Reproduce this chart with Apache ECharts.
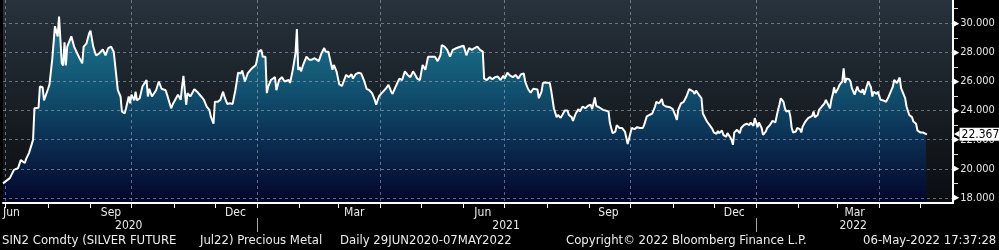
<!DOCTYPE html>
<html>
<head>
<meta charset="utf-8">
<script src="https://cdn.jsdelivr.net/npm/echarts@6/dist/echarts.min.js"></script>
<style>
html,body{margin:0;padding:0;background:#000;}
#c{width:999px;height:250px;}
</style>
</head>
<body>
<div id="c"></div>
<script>
// ---- data (SIN2 Comdty, silver future, close) ----
const dates = [
'2020-06-29','2020-07-04','2020-07-07','2020-07-10','2020-07-12','2020-07-15','2020-07-16','2020-07-18','2020-07-21','2020-07-22',
'2020-07-25','2020-07-26','2020-07-28','2020-07-29','2020-08-01','2020-08-02','2020-08-04','2020-08-06','2020-08-08','2020-08-09',
'2020-08-11','2020-08-12','2020-08-13','2020-08-14','2020-08-15','2020-08-18','2020-08-20','2020-08-21','2020-08-24','2020-08-26',
'2020-08-27','2020-08-29','2020-08-31','2020-09-01','2020-09-03','2020-09-05','2020-09-07','2020-09-10','2020-09-12','2020-09-14',
'2020-09-16','2020-09-18','2020-09-19','2020-09-21','2020-09-23','2020-09-24','2020-09-26','2020-09-27','2020-09-29','2020-09-30',
'2020-10-01','2020-10-03','2020-10-04','2020-10-05','2020-10-07','2020-10-09','2020-10-12','2020-10-13','2020-10-14','2020-10-16',
'2020-10-19','2020-10-21','2020-10-23','2020-10-26','2020-10-27','2020-10-30','2020-10-31','2020-11-02','2020-11-04','2020-11-06',
'2020-11-07','2020-11-08','2020-11-10','2020-11-11','2020-11-13','2020-11-16','2020-11-18','2020-11-21','2020-11-23','2020-11-25',
'2020-11-27','2020-11-28','2020-11-30','2020-12-01','2020-12-03','2020-12-05','2020-12-07','2020-12-08','2020-12-10','2020-12-12',
'2020-12-14','2020-12-16','2020-12-18','2020-12-20','2020-12-21','2020-12-23','2020-12-25','2020-12-26','2020-12-28','2020-12-29',
'2020-12-31','2021-01-02','2021-01-04','2021-01-05','2021-01-07','2021-01-08','2021-01-09','2021-01-11','2021-01-14','2021-01-15',
'2021-01-17','2021-01-19','2021-01-21','2021-01-24','2021-01-25','2021-01-27','2021-01-29','2021-01-30','2021-01-31','2021-02-01',
'2021-02-02','2021-02-04','2021-02-06','2021-02-08','2021-02-10','2021-02-12','2021-02-15','2021-02-17','2021-02-19','2021-02-20',
'2021-02-22','2021-02-25','2021-02-26','2021-02-28','2021-03-02','2021-03-04','2021-03-05','2021-03-07','2021-03-09','2021-03-11',
'2021-03-12','2021-03-14','2021-03-16','2021-03-18','2021-03-20','2021-03-22','2021-03-24','2021-03-26','2021-03-28','2021-03-29',
'2021-03-31','2021-04-02','2021-04-03','2021-04-05','2021-04-07','2021-04-09','2021-04-10','2021-04-12','2021-04-14','2021-04-15',
'2021-04-17','2021-04-19','2021-04-21','2021-04-23','2021-04-25','2021-04-26','2021-04-28','2021-04-30','2021-05-02','2021-05-04',
'2021-05-06','2021-05-08','2021-05-11','2021-05-13','2021-05-15','2021-05-16','2021-05-18','2021-05-20','2021-05-22','2021-05-24',
'2021-05-25','2021-05-27','2021-05-30','2021-06-01','2021-06-02','2021-06-03','2021-06-05','2021-06-07','2021-06-09','2021-06-11',
'2021-06-13','2021-06-15','2021-06-16','2021-06-18','2021-06-20','2021-06-22','2021-06-24','2021-06-26','2021-06-28','2021-06-30',
'2021-07-01','2021-07-03','2021-07-05','2021-07-07','2021-07-09','2021-07-11','2021-07-13','2021-07-15','2021-07-16','2021-07-18',
'2021-07-20','2021-07-22','2021-07-23','2021-07-25','2021-07-26','2021-07-28','2021-07-29','2021-07-31','2021-08-03','2021-08-04',
'2021-08-06','2021-08-08','2021-08-09','2021-08-11','2021-08-12','2021-08-14','2021-08-16','2021-08-17','2021-08-19','2021-08-20',
'2021-08-22','2021-08-24','2021-08-25','2021-08-27','2021-08-29','2021-08-31','2021-09-02','2021-09-03','2021-09-05','2021-09-06',
'2021-09-08','2021-09-09','2021-09-11','2021-09-13','2021-09-15','2021-09-16','2021-09-18','2021-09-20','2021-09-21','2021-09-23',
'2021-09-24','2021-09-25','2021-09-27','2021-09-29','2021-10-01','2021-10-02','2021-10-04','2021-10-06','2021-10-08','2021-10-10',
'2021-10-11','2021-10-13','2021-10-15','2021-10-17','2021-10-19','2021-10-20','2021-10-22','2021-10-24','2021-10-25','2021-10-27',
'2021-10-30','2021-11-01','2021-11-03','2021-11-04','2021-11-05','2021-11-07','2021-11-09','2021-11-10','2021-11-11','2021-11-13',
'2021-11-14','2021-11-16','2021-11-17','2021-11-18','2021-11-20','2021-11-22','2021-11-23','2021-11-24','2021-11-26','2021-11-28',
'2021-11-30','2021-12-01','2021-12-03','2021-12-04','2021-12-05','2021-12-07','2021-12-08','2021-12-10','2021-12-11','2021-12-13',
'2021-12-14','2021-12-15','2021-12-16','2021-12-18','2021-12-20','2021-12-21','2021-12-23','2021-12-25','2021-12-27','2021-12-28',
'2021-12-30','2021-12-31','2022-01-02','2022-01-03','2022-01-05','2022-01-06','2022-01-08','2022-01-09','2022-01-11','2022-01-13',
'2022-01-15','2022-01-17','2022-01-18','2022-01-19','2022-01-21','2022-01-22','2022-01-23','2022-01-25','2022-01-26','2022-01-27',
'2022-01-28','2022-01-30','2022-01-31','2022-02-02','2022-02-03','2022-02-04','2022-02-06','2022-02-08','2022-02-09','2022-02-11',
'2022-02-12','2022-02-13','2022-02-15','2022-02-16','2022-02-18','2022-02-20','2022-02-21','2022-02-22','2022-02-24','2022-02-25',
'2022-02-26','2022-02-27','2022-02-28','2022-03-02','2022-03-03','2022-03-05','2022-03-06','2022-03-07','2022-03-08','2022-03-10',
'2022-03-11','2022-03-12','2022-03-14','2022-03-15','2022-03-16','2022-03-17','2022-03-19','2022-03-20','2022-03-21','2022-03-22',
'2022-03-24','2022-03-26','2022-03-27','2022-03-28','2022-03-30','2022-03-31','2022-04-02','2022-04-04','2022-04-06','2022-04-08',
'2022-04-09','2022-04-11','2022-04-12','2022-04-13','2022-04-14','2022-04-16','2022-04-17','2022-04-18','2022-04-20','2022-04-21',
'2022-04-23','2022-04-25','2022-04-26','2022-04-28','2022-04-29','2022-05-01','2022-05-03','2022-05-05','2022-05-06'
];
const values = [
19.0,19.36,19.93,20.05,20.6,20.4,20.7,21.08,21.99,24.16,
24.2,25.65,25.6,24.7,25.5,25.8,27.5,29.8,29.1,30.46,
27.25,27.1,28.7,27.1,28.4,29.1,28.4,28.4,27.6,27.25,
28.4,28.6,29.3,29.5,28.4,27.8,27.9,28.2,27.8,28.3,
28.4,28.05,28.0,25.4,24.97,23.94,23.8,24.16,24.97,24.5,
25.1,24.7,25.3,24.7,24.85,25.65,26.1,24.97,25.5,24.97,
25.4,26.0,25.5,25.4,25.1,24.16,24.4,24.74,25.1,24.74,
25.65,26.38,24.4,25.2,24.97,25.47,25.3,24.97,24.74,24.28,
24.05,23.6,23.1,24.6,24.6,24.74,25.3,24.97,24.46,24.5,
24.46,25.4,26.6,26.55,26.75,26.0,26.55,26.45,26.9,26.8,
27.14,28.05,28.17,27.7,27.7,25.2,25.65,26.1,26.3,25.4,
26.1,26.3,26.0,26.1,25.9,26.8,27.94,29.6,26.8,27.0,
26.7,27.25,27.7,27.5,27.5,27.6,27.4,27.94,28.3,28.05,
28.05,26.8,27.14,26.7,25.8,25.7,25.6,26.45,26.3,26.5,
26.2,26.5,26.6,26.55,26.1,25.5,25.4,25.2,24.74,24.4,
24.97,25.2,25.15,25.5,25.77,25.3,25.15,25.6,26.0,26.2,
26.1,26.7,26.45,26.3,26.7,26.55,26.2,26.1,27.14,26.8,
27.7,27.7,27.7,27.4,27.8,28.5,28.4,28.17,27.7,28.17,
28.2,28.3,28.4,28.45,28.47,27.8,28.3,28.17,28.3,28.4,
28.17,28.05,26.2,26.1,26.3,26.15,26.3,26.34,26.1,26.4,
26.2,26.6,26.4,26.3,26.45,26.2,26.5,26.55,26.0,25.5,
25.24,25.5,25.4,25.45,24.85,25.3,25.9,25.93,25.9,25.4,
24.16,23.55,23.7,23.5,23.6,24.0,24.0,23.7,23.55,23.3,
23.8,24.1,23.94,24.28,24.16,24.33,24.4,24.1,24.9,24.33,
24.23,24.16,24.05,24.0,23.94,23.14,22.45,22.56,23.0,22.8,
22.73,22.8,22.56,21.7,22.45,22.8,22.73,22.86,22.8,22.8,
23.0,23.6,23.7,23.8,24.28,24.6,24.5,24.8,24.4,24.28,
24.23,24.1,23.64,23.36,24.05,24.5,24.6,24.8,24.97,25.47,
25.54,25.3,25.15,25.38,25.1,24.85,23.8,23.7,23.25,23.0,
22.73,22.5,22.4,22.6,22.45,22.63,22.33,22.2,22.45,22.17,
22.0,21.65,22.5,22.68,22.45,22.8,23.0,23.1,23.0,23.18,
22.95,23.48,22.86,23.18,22.8,22.33,22.56,22.8,23.0,23.3,
23.18,24.05,24.4,24.85,24.6,24.16,23.94,24.0,23.6,22.8,
22.5,22.56,22.8,22.73,22.5,22.9,23.25,23.48,23.6,23.64,
23.94,23.55,23.7,24.05,24.28,24.5,24.74,24.74,24.16,24.74,
25.1,25.6,25.2,25.54,25.77,26.0,26.9,25.9,26.2,26.15,
26.0,25.54,25.1,24.97,25.65,25.38,25.24,25.47,25.1,25.4,
26.0,25.6,24.97,25.3,25.15,25.3,24.74,24.7,24.6,24.97,
25.1,25.65,26.1,26.2,25.9,26.27,25.54,25.47,24.85,24.28,
23.7,23.55,23.25,23.1,22.63,22.5,22.5,22.4,22.367
];
const lastValue = 22.367;

// axis range / labels
const axisStart = '2020-06-29';
const axisEnd = '2022-05-25';
const yMin = 17.65, yMax = 31.6;
const monthLabelDates = ['2020-06-29','2020-09-16','2020-12-16','2021-03-13','2021-06-15','2021-09-15','2021-12-16','2022-03-14'];
const monthLabelTexts = ['Jun','Sep','Dec','Mar','Jun','Sep','Dec','Mar'];
const yearLabelDates = ['2020-09-29','2021-07-02','2022-03-13'];
const yearLabelTexts = ['2020','2021','2022'];
const footerTexts = ['SIN2 Comdty (SILVER FUTURE','Jul22) Precious Metal','Daily 29JUN2020-07MAY2022','Copyright\u00A9 2022 Bloomberg Finance L.P.','06-May-2022 17:37:28'];

// daily categories for the time axis
const categories = [];
(function(){
  const pad = n => (n < 10 ? '0' : '') + n;
  let t = Date.parse(axisStart + 'T00:00:00Z');
  const end = Date.parse(axisEnd + 'T00:00:00Z');
  while (t <= end) {
    const d = new Date(t);
    categories.push(d.getUTCFullYear() + '-' + pad(d.getUTCMonth() + 1) + '-' + pad(d.getUTCDate()));
    t += 86400000;
  }
})();
const seriesData = dates.map((d, i) => [d, values[i]]);
const monthLabelMap = {}; monthLabelDates.forEach((d, i) => monthLabelMap[d] = monthLabelTexts[i]);
const yearLabelMap = {}; yearLabelDates.forEach((d, i) => yearLabelMap[d] = yearLabelTexts[i]);

const FONT = '"DejaVu Sans Condensed","DejaVu Sans",sans-serif';
const GRID_DASH = 'rgba(165,178,192,0.55)';

const chart = echarts.init(document.getElementById('c'), null, {renderer: 'canvas'});
const option = {
  backgroundColor: '#000',
  animation: false,
  textStyle: {fontFamily: FONT},
  grid: {
    left: 0, right: 46, top: 0, bottom: 47, show: true, borderWidth: 0,
    backgroundColor: new echarts.graphic.LinearGradient(0, 0, 0, 1, [
      {offset: 0, color: '#27323c'}, {offset: 1, color: '#0b0d10'}
    ])
  },
  xAxis: [{
    type: 'category', data: categories, boundaryGap: false, z: 3,
    axisLine: {show: true, lineStyle: {color: '#ffffff', width: 2}},
    axisTick: {show: true, length: 5, lineStyle: {color: '#ffffff', width: 1},
      interval: (i, v) => v.slice(8) === '01'},
    axisLabel: {show: true, color: '#e8e8e8', fontSize: 12, fontFamily: FONT, margin: 4,
      alignMinLabel: 'left',
      interval: (i, v) => monthLabelMap[v] !== undefined,
      formatter: v => monthLabelMap[v] || ''},
    splitLine: {show: true, lineStyle: {color: GRID_DASH, type: [3, 3], width: 1},
      interval: (i, v) => v.slice(8) === '01' && ['01','04','07','10'].indexOf(v.slice(5, 7)) >= 0}
  }, {
    type: 'category', data: categories, boundaryGap: false, position: 'bottom', offset: 15,
    axisLine: {show: false},
    axisTick: {show: true, length: 14, lineStyle: {color: '#a8a8a8', width: 1},
      interval: (i, v) => v.slice(5) === '01-01'},
    axisLabel: {show: true, color: '#e8e8e8', fontSize: 12, fontFamily: FONT, margin: 2,
      interval: (i, v) => yearLabelMap[v] !== undefined,
      formatter: v => yearLabelMap[v] || ''},
    splitLine: {show: false}
  }],
  yAxis: {
    type: 'value', position: 'right', min: yMin, max: yMax, splitNumber: 7, z: 3,
    axisLine: {show: true, lineStyle: {color: '#ffffff', width: 2}},
    axisTick: {show: false},
    minorTick: {show: true, splitNumber: 2, length: 5, lineStyle: {color: '#dddddd', width: 1}},
    axisLabel: {show: true, margin: 0, showMinLabel: false, showMaxLabel: false,
      color: '#e6e6e6', fontSize: 11, fontFamily: FONT,
      formatter: v => '{t|\u25B6}' + v.toFixed(3),
      rich: {t: {color: '#ffffff', fontSize: 9, padding: [0, 1, 0, 0]}}},
    splitLine: {show: true, showMinLine: false, showMaxLine: false,
      lineStyle: {color: GRID_DASH, type: [3, 3], width: 1}},
    minorSplitLine: {show: false}
  },
  series: [{
    name: 'area', type: 'line', data: seriesData, z: 1, symbol: 'none', silent: true,
    lineStyle: {width: 0, opacity: 0},
    areaStyle: {origin: 'start', opacity: 1,
      color: new echarts.graphic.LinearGradient(0, 0, 0, 1, [
        {offset: 0, color: '#1d7a92'}, {offset: 0.4, color: '#11506f'},
        {offset: 0.7, color: '#0a2a4e'}, {offset: 1, color: '#03052a'}
      ])}
  }, {
    name: 'SIN2 Comdty', type: 'line', data: seriesData, z: 5, symbol: 'none', silent: true,
    clip: false,
    lineStyle: {color: '#ffffff', width: 2},
    markLine: {
      silent: true, symbol: ['none', 'none'], animation: false,
      lineStyle: {color: 'rgba(0,0,0,0)', width: 1, type: 'solid'},
      data: [{yAxis: lastValue}],
      label: {show: true, position: 'end', distance: 1, opacity: 1,
        formatter: () => '{a|\u25C0}{b|' + lastValue.toFixed(3) + '}',
        rich: {
          a: {color: '#ffffff', fontSize: 8, fontFamily: FONT},
          b: {color: '#000000', backgroundColor: '#ffffff', fontSize: 12, fontFamily: FONT, padding: [1, 12, 0, 2]}
        }}
    }
  }],
  graphic: footerTexts.map((t, i) => ({
    type: 'text', left: [2, 200, 340, 566, 863][i], top: 234,
    style: {text: t, fill: '#ececec', font: '13px ' + FONT}
  }))
};
chart.setOption(option);
</script>
</body>
</html>
